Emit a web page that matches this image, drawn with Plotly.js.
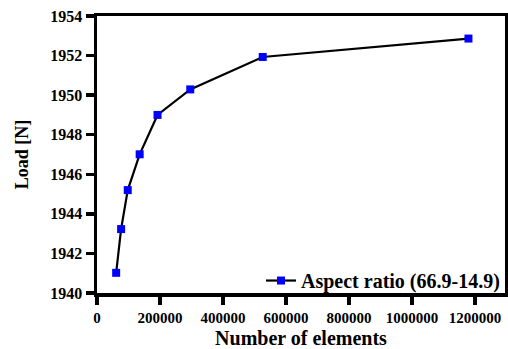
<!DOCTYPE html>
<html>
<head>
<meta charset="utf-8">
<script src="https://cdn.plot.ly/plotly-3.0.1.min.js"></script>
<style>html,body{margin:0;padding:0;background:#fff;}#chart{width:508px;height:349px;}</style>
</head>
<body>
<div id="chart"></div>
<script>
const elements = [60800, 76500, 97600, 135400, 192100, 296000, 526000, 1179000];
const load = [1941.02, 1943.23, 1945.2, 1947.01, 1949.0, 1950.29, 1951.93, 1952.86];
const seriesName = 'Aspect ratio (66.9-14.9)';
const xTicks = [0, 200000, 400000, 600000, 800000, 1000000, 1200000];
const yTicks = [1940, 1942, 1944, 1946, 1948, 1950, 1952, 1954];

const serif = 'Liberation Serif, Times New Roman, serif';
const trace = {
  x: elements, y: load, name: seriesName, type: 'scatter', mode: 'lines+markers',
  line: {color: '#000', width: 2.2},
  marker: {symbol: 'square', size: 8, color: '#0000ff'}
};
const axisCommon = {
  showline: true, linecolor: '#000', linewidth: 3.5, mirror: true,
  ticks: 'outside', ticklen: 8, tickwidth: 3.5, tickcolor: '#000',
  showgrid: false, zeroline: false
};
const layout = {
  width: 508, height: 349,
  margin: {l: 97, r: 3, t: 16, b: 56},
  paper_bgcolor: '#fff', plot_bgcolor: '#fff',
  showlegend: true,
  legend: {x: 1, xanchor: 'right', y: 0.045, yanchor: 'middle', bgcolor: 'rgba(0,0,0,0)',
    font: {family: serif, size: 20, color: '#000', weight: 'bold'}},
  xaxis: Object.assign({}, axisCommon, {
    range: [0, 1295000], tickvals: xTicks, ticktext: xTicks.map(String),
    tickfont: {family: serif, size: 15, color: '#000', weight: 'bold'},
    title: {text: 'Number of elements', font: {family: serif, size: 20, color: '#000', weight: 'bold'}, standoff: 11}
  }),
  yaxis: Object.assign({}, axisCommon, {
    range: [1940, 1954], tickvals: yTicks, ticktext: yTicks.map(String),
    tickfont: {family: serif, size: 16, color: '#000', weight: 'bold'},
    title: {text: 'Load [N]', font: {family: serif, size: 18, color: '#000', weight: 'bold'}, standoff: 18}
  })
};
Plotly.newPlot('chart', [trace], layout, {displayModeBar: false, staticPlot: true});
</script>
</body>
</html>
